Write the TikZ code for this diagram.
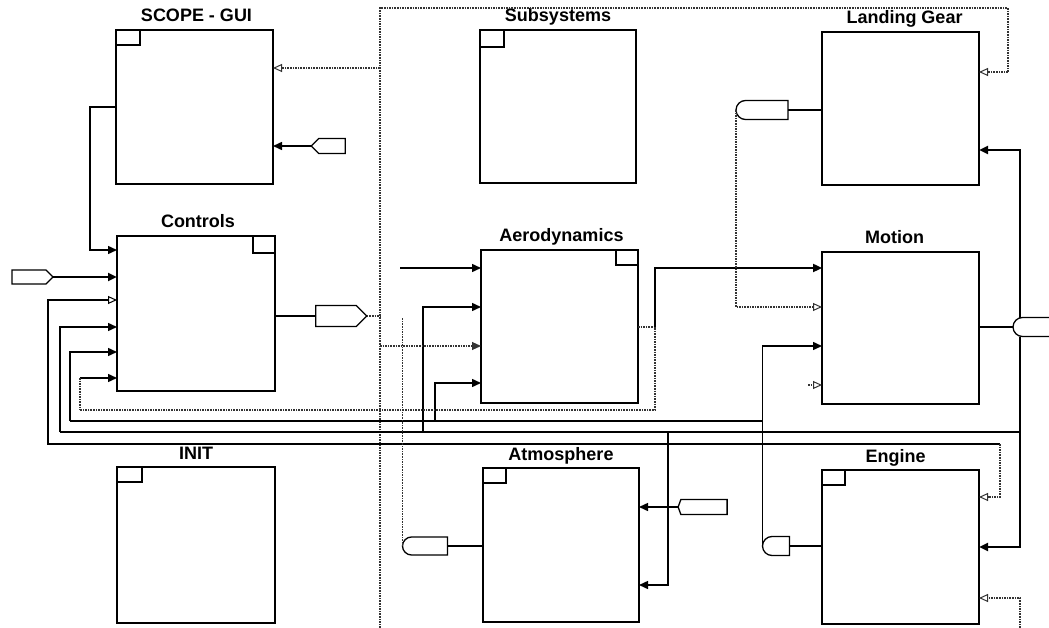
\documentclass[tikz,border=0pt]{standalone}
\usepackage{fontspec}
\setmainfont{Liberation Sans}
\usetikzlibrary{arrows.meta,shapes.symbols,shapes.misc,calc}
\newcommand\shadowblk[1]{\draw[shd] (#1.north east) -- (#1.south east) -- (#1.south west);}
\begin{document}
\begin{tikzpicture}[x=1pt,y=-1pt,
  blk/.style={draw, line width=1.2pt, anchor=north west, inner sep=0pt, outer sep=0pt},
  ttl/.style={font=\fontsize{18}{21}\selectfont\bfseries, anchor=base, inner sep=0pt},
  shd/.style={line width=2.8pt, line cap=rect},
  corner/.style={line width=1.1pt},
  thk/.style={line width=2.3pt},
  med/.style={line width=1.5pt},
  thn/.style={line width=1.1pt, black!80, dash pattern=on 1.6pt off 1pt},
  fa/.style={-{Triangle[length=9pt,width=8pt]}},
  oa/.style={-{Triangle[open,length=9pt,width=8pt,line width=1pt]}},
  tag/.style={draw, fill=white, line width=1.3pt, inner sep=0pt, outer sep=0pt},
  rtagshape/.style={tag, rounded rectangle, rounded rectangle east arc=none},
]
\useasboundingbox (0,0) rectangle (1049,628);

% ---------- blocks ----------
\node[blk, minimum width=157pt, minimum height=154pt] (scope) at (116,30) {};
\node[blk, minimum width=158pt, minimum height=155pt] (ctl)   at (117,236) {};
\node[blk, minimum width=158pt, minimum height=156pt] (init)  at (117,467) {};
\node[blk, minimum width=156pt, minimum height=153pt] (subs)  at (480,30) {};
\node[blk, minimum width=157pt, minimum height=153pt] (aero)  at (481,250) {};
\node[blk, minimum width=156pt, minimum height=154pt] (atm)   at (483,468) {};
\node[blk, minimum width=157pt, minimum height=153pt] (lg)    at (822,32) {};
\node[blk, minimum width=157pt, minimum height=152pt] (mot)   at (822,252) {};
\node[blk, minimum width=157pt, minimum height=154pt] (eng)   at (822,470) {};

\foreach \b in {scope,ctl,init,subs,aero,atm,lg,mot,eng}{\shadowblk{\b}}

\draw[corner] (scope.north west) rectangle ++(24,15);
\draw[corner] (ctl.north east) rectangle ++(-22,17);
\draw[corner] (init.north west) rectangle ++(25,15);
\draw[corner] (subs.north west) rectangle ++(24,17);
\draw[corner] (aero.north east) rectangle ++(-22,15);
\draw[corner] (atm.north west) rectangle ++(23,15);
\draw[corner] (eng.north west) rectangle ++(23,15);

\node[ttl] (tscope) at ($(scope.north)+(2,-8)$) {SCOPE - GUI};
\node[ttl] (tctl)   at ($(ctl.north)+(2,-8)$) {Controls};
\node[ttl] (tinit)  at ($(init.north)+(0,-8)$) {INIT};
\node[ttl] (tsubs)  at ($(subs.north)+(0,-8)$) {Subsystems};
\node[ttl] (taero)  at ($(aero.north)+(2,-8)$) {Aerodynamics};
\node[ttl] (tatm)   at ($(atm.north)+(0,-8)$) {Atmosphere};
\node[ttl] (tlg)    at ($(lg.north)+(4,-8)$) {Landing Gear};
\node[ttl] (tmot)   at ($(mot.north)+(-6,-8)$) {Motion};
\node[ttl] (teng)   at ($(eng.north)+(-5,-8)$) {Engine};

% ---------- tags ----------
\node[tag, signal, signal to=west, minimum width=34pt, minimum height=15pt] (stag) at (332,146) {};
\node[tag, signal, signal to=east, minimum width=41pt, minimum height=14pt] (inp) at (29,277) {};
\node[tag, signal, signal to=east, minimum width=51pt, minimum height=21pt] (ctag) at (336,316) {};
\node[rtagshape, minimum width=45pt, minimum height=18pt] (atag) at (425,546) {};
\node[tag, signal, signal to=west, signal pointer angle=140, minimum width=49pt, minimum height=15pt] (rtag) at (704,507) {};
\node[rtagshape, minimum width=52pt, minimum height=19pt] (lgtag) at (762,110) {};
\node[rtagshape, minimum width=27pt, minimum height=19pt] (etag) at (776,546) {};
\node[rtagshape, minimum width=44pt, minimum height=19pt] (mtag) at (1035,327) {};

% ---------- gray frame / bus ----------
\draw[thn] (380,628) -- (380,8) -- (1008,8) -- (1008,72);
\draw[thn,oa] (1008,72) -- (lg.east |- 0,72);
\draw[thn,oa] (380,68) -- (scope.east |- 0,68);

% ---------- SCOPE ----------
\draw[med,fa] (stag.west) -- (scope.east |- stag.west);
\draw[med,fa] (scope.west |- 0,107) -- (90,107) -- (90,250) -- (ctl.west |- 0,250);

% ---------- Controls inputs ----------
\draw[thk,fa] (inp.east) -- (ctl.west |- inp.east);
\draw[med,oa] (1000,444) -- (48,444) -- (48,300) -- (ctl.west |- 0,300);
\draw[thk] (60,432) -- (1020,432);
\draw[med,fa] (60,432) -- (60,327) -- (ctl.west |- 0,327);
\draw[med] (70,421) -- (762,421);
\draw[med,fa] (70,421) -- (70,352) -- (ctl.west |- 0,352);
\draw[med,fa] (80,378) -- (ctl.west |- 0,378);
\draw[thn] (80,378) -- (80,410);

% ---------- Controls output ----------
\draw[thk] (ctl.east |- ctag.west) -- (ctag.west);
\draw[thn] (ctag.east) -- (380,316);

% ---------- Aerodynamics ----------
\draw[med,fa] (400,268) -- (aero.west |- 0,268);
\draw[med,fa] (423,432) -- (423,307) -- (aero.west |- 0,307);
\draw[thn,fa] (380,346) -- (aero.west |- 0,346);
\draw[med,fa] (435,421) -- (435,383) -- (aero.west |- 0,383);
\draw[thn] (aero.east |- 0,327) -- (655,327) -- (655,410) -- (80,410);
\draw[thk,fa] (655,327) -- (655,268) -- (mot.west |- 0,268);

% ---------- Atmosphere ----------
\draw[thk] (atm.west |- atag.east) -- (atag.east);
\draw[thn] (atag.west) -- (atag.west |- 0,318);
\draw[med,fa] (rtag.west) -- (atm.east |- rtag.west);
\draw[med,fa] (668,432) -- (668,585) -- (atm.east |- 0,585);

% ---------- Landing gear / Motion ----------
\draw[med] (lgtag.east) -- (lg.west |- lgtag.east);
\draw[thn,oa] (lgtag.west) -- (lgtag.west |- 0,307) -- (mot.west |- 0,307);
\draw[med] (etag.east) -- (eng.west |- etag.east);
\draw[med,fa] (etag.west) -- (etag.west |- 0,346) -- (mot.west |- 0,346);
\draw[thn,oa] (808,385) -- (mot.west |- 0,385);
\draw[thk] (mot.east |- mtag.west) -- (mtag.west);
\draw[thk,fa] (mtag.north -| 1020,0) -- (1020,150) -- (lg.east |- 0,150);
\draw[thk,fa] (mtag.south -| 1020,0) -- (1020,547) -- (eng.east |- 0,547);

% ---------- Engine ----------
\draw[thn,oa] (1000,444) -- (1000,497) -- (eng.east |- 0,497);
\draw[thn,oa] (1020,628) -- (1020,598) -- (eng.east |- 0,598);
\end{tikzpicture}
\end{document}
